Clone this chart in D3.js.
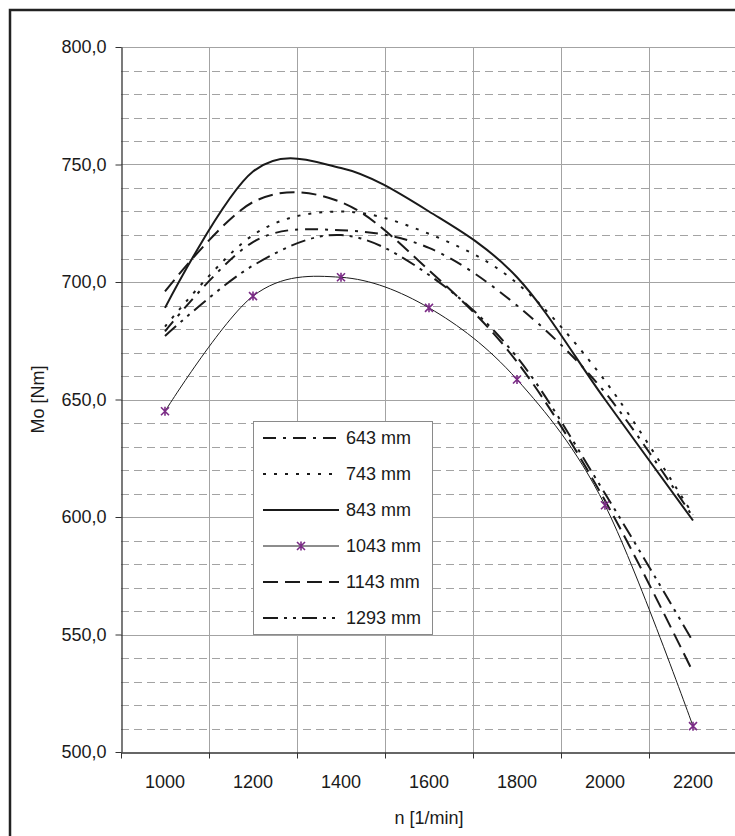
<!DOCTYPE html>
<html>
<head>
<meta charset="utf-8">
<script src="https://cdn.jsdelivr.net/npm/d3@7"></script>
<style>
  html, body { margin: 0; padding: 0; background: #fff; overflow: hidden; }
  svg { display: block; font-family: "Liberation Sans", Arial, sans-serif; }
</style>
</head>
<body>
<svg id="chart" width="735" height="836"></svg>
<script>
// Engine speed categories [1/min]
const speeds = ["1000", "1200", "1400", "1600", "1800", "2000", "2200"];

// Torque Mo [Nm] for each intake length
const torque643  = [679, 717, 722, 714.5, 690, 653, 600];
const torque743  = [681, 720, 730, 720.5, 699.5, 658, 601];
const torque843  = [689, 747, 748.5, 730, 702, 650, 598.5];
const torque1043 = [645, 694, 702, 689, 658.5, 605, 511];
const torque1143 = [696, 734, 734, 705, 666, 607, 534];
const torque1293 = [677, 707, 720, 703, 668, 610, 547];

const seriesLabels = ["643 mm", "743 mm", "843 mm", "1043 mm", "1143 mm", "1293 mm"];
const yTickValues = [500, 550, 600, 650, 700, 750, 800];

const series = [
  { label: seriesLabels[0], values: torque643,  dash: "13,7,3,7", width: 2 },
  { label: seriesLabels[1], values: torque743,  dash: "3,8",      width: 2 },
  { label: seriesLabels[2], values: torque843,  dash: null,       width: 2 },
  { label: seriesLabels[3], values: torque1043, dash: null,       width: 1, marker: true },
  { label: seriesLabels[4], values: torque1143, dash: "15,7",     width: 2 },
  { label: seriesLabels[5], values: torque1293, dash: "15,6,3,6,3,6", width: 2 }
];

const plot = { left: 121, right: 737, top: 47, bottom: 752 };
const ink = "#1a1a1a";
const gridColor = "#a3a3a3";
const markerColor = "#7b2c86";

const svg = d3.select("#chart");

// Outer chart frame (extends past the canvas on the right and bottom)
svg.append("rect")
  .attr("x", 10).attr("y", 10)
  .attr("width", 760).attr("height", 860)
  .attr("fill", "#fff")
  .attr("stroke", "#222").attr("stroke-width", 2.5);

const x = d3.scaleBand().domain(speeds).range([plot.left, plot.right]);
const xc = s => x(s) + x.bandwidth() / 2;
const y = d3.scaleLinear().domain([500, 800]).range([plot.bottom, plot.top]);
const crisp = v => Math.round(v) + 0.5;

// Minor horizontal gridlines every 10 Nm (dashed)
const minor = d3.range(510, 800, 10).filter(v => v % 50 !== 0);
svg.append("g").selectAll("line").data(minor).join("line")
  .attr("x1", plot.left).attr("x2", plot.right)
  .attr("y1", d => crisp(y(d))).attr("y2", d => crisp(y(d)))
  .attr("stroke", gridColor).attr("stroke-width", 1)
  .attr("stroke-dasharray", "8,5");

// Major horizontal gridlines every 50 Nm
svg.append("g").selectAll("line").data(yTickValues.filter(v => v > 500)).join("line")
  .attr("x1", plot.left).attr("x2", plot.right)
  .attr("y1", d => crisp(y(d))).attr("y2", d => crisp(y(d)))
  .attr("stroke", gridColor).attr("stroke-width", 1);

// Vertical gridlines between categories
const bounds = speeds.slice(1).map(s => x(s)).concat([plot.right]);
svg.append("g").selectAll("line").data(bounds).join("line")
  .attr("x1", d => crisp(d)).attr("x2", d => crisp(d))
  .attr("y1", plot.top).attr("y2", plot.bottom)
  .attr("stroke", gridColor).attr("stroke-width", 1);

// Y axis
const yAxis = svg.append("g")
  .attr("transform", `translate(${crisp(plot.left)},0)`)
  .call(d3.axisLeft(y).tickValues(yTickValues).tickSize(6).tickSizeOuter(0).tickPadding(9)
    .tickFormat(d => d.toFixed(1).replace(".", ",")));
yAxis.select(".domain").attr("stroke", "#333").attr("stroke-width", 1.3);
yAxis.selectAll(".tick line").attr("stroke", "#333");
yAxis.selectAll("text").attr("font-size", 18).attr("fill", ink);

// X axis: labels at category centres, tick marks at category boundaries
const xAxis = svg.append("g")
  .attr("transform", `translate(0,${crisp(plot.bottom)})`)
  .call(d3.axisBottom(x).tickSize(0).tickSizeOuter(0).tickPadding(23));
xAxis.select(".domain").attr("stroke", "#333").attr("stroke-width", 1.3);
xAxis.selectAll("text").attr("font-size", 18).attr("fill", ink);
svg.append("g").selectAll("line").data([plot.left].concat(bounds)).join("line")
  .attr("x1", d => crisp(d)).attr("x2", d => crisp(d))
  .attr("y1", crisp(plot.bottom)).attr("y2", crisp(plot.bottom) + 6)
  .attr("stroke", "#333").attr("stroke-width", 1);

// Axis titles
svg.append("text")
  .attr("x", (plot.left + plot.right) / 2).attr("y", 818)
  .attr("dy", "0.35em").attr("text-anchor", "middle")
  .attr("font-size", 18).attr("fill", ink)
  .text("n [1/min]");
svg.append("text")
  .attr("transform", `translate(38,${(plot.top + plot.bottom) / 2}) rotate(-90)`)
  .attr("dy", "0.35em").attr("text-anchor", "middle")
  .attr("font-size", 18).attr("fill", ink)
  .text("Mo [Nm]");

// Smoothed torque curves
const line = d3.line()
  .x((d, i) => xc(speeds[i]))
  .y(d => y(d))
  .curve(d3.curveCatmullRom.alpha(0));

const starPath = r => `M${-r},${-r}L${r},${r}M${-r},${r}L${r},${-r}M0,${-r - 0.5}L0,${r + 0.5}`;

svg.append("g").selectAll("path").data(series).join("path")
  .attr("d", d => line(d.values))
  .attr("fill", "none")
  .attr("stroke", ink)
  .attr("stroke-width", d => d.width)
  .attr("stroke-dasharray", d => d.dash)
  .attr("stroke-linejoin", "round");

// Markers on the 1043 mm curve
const marked = series.filter(s => s.marker);
marked.forEach(s => {
  svg.append("g").selectAll("path").data(s.values).join("path")
    .attr("transform", (d, i) => `translate(${xc(speeds[i])},${y(d)})`)
    .attr("d", starPath(4))
    .attr("fill", "none")
    .attr("stroke", markerColor).attr("stroke-width", 1.6);
});

// Legend
const legend = svg.append("g");
legend.append("rect")
  .attr("x", 253.5).attr("y", 421.5).attr("width", 179).attr("height", 213)
  .attr("fill", "#fff").attr("stroke", "#8a8a8a").attr("stroke-width", 1);
const rows = legend.selectAll("g").data(series).join("g")
  .attr("transform", (d, i) => `translate(0,${438 + 36 * i})`);
rows.append("line")
  .attr("x1", 263).attr("x2", 339).attr("y1", 0).attr("y2", 0)
  .attr("stroke", ink)
  .attr("stroke-width", d => d.width)
  .attr("stroke-dasharray", d => d.dash);
rows.filter(d => d.marker).append("path")
  .attr("transform", "translate(301,0)")
  .attr("d", starPath(4))
  .attr("fill", "none").attr("stroke", markerColor).attr("stroke-width", 1.6);
rows.append("text")
  .attr("x", 346).attr("dy", "0.35em")
  .attr("font-size", 18).attr("fill", ink)
  .text(d => d.label);
</script>
</body>
</html>
